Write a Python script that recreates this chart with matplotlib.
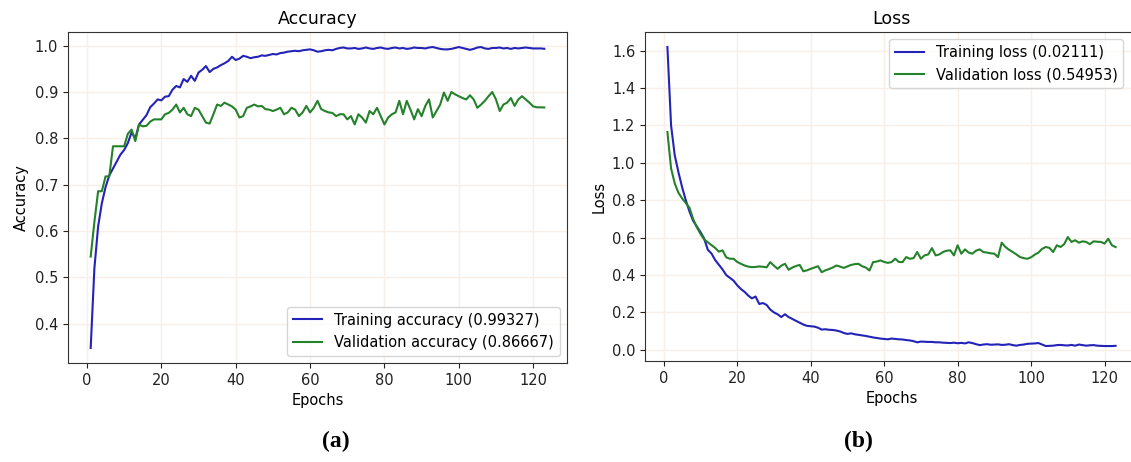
import numpy as np
import matplotlib
matplotlib.use("Agg")
import matplotlib.pyplot as plt

# values (epochs 1..123)
train_acc = [0.348, 0.52, 0.61, 0.66, 0.695, 0.72, 0.735, 0.75, 0.765, 0.775,
             0.79, 0.813, 0.80, 0.83, 0.84, 0.85, 0.867, 0.875, 0.884, 0.882,
             0.89, 0.891, 0.905, 0.913, 0.91, 0.928, 0.922, 0.935, 0.924, 0.942,
             0.948, 0.956, 0.943, 0.95, 0.953, 0.958, 0.962, 0.967, 0.976, 0.969,
             0.972, 0.978, 0.976, 0.973, 0.975, 0.976, 0.979, 0.978, 0.98, 0.982,
             0.981, 0.984, 0.985, 0.987, 0.988, 0.989, 0.988, 0.99, 0.991, 0.992,
             0.99, 0.987, 0.988, 0.99, 0.991, 0.99, 0.993, 0.995, 0.996, 0.994,
             0.994, 0.995, 0.993, 0.994, 0.996, 0.994, 0.993, 0.995, 0.996, 0.994,
             0.993, 0.995, 0.996, 0.994, 0.995, 0.993, 0.994, 0.996, 0.995, 0.995,
             0.994, 0.996, 0.997, 0.995, 0.993, 0.992, 0.992, 0.993, 0.995, 0.997,
             0.995, 0.993, 0.991, 0.993, 0.996, 0.997, 0.994, 0.993, 0.995, 0.995,
             0.996, 0.994, 0.995, 0.993, 0.995, 0.994, 0.995, 0.996, 0.995, 0.994,
             0.994, 0.994, 0.99327]

val_acc = [0.545, 0.62, 0.686, 0.686, 0.718, 0.718, 0.783, 0.783, 0.783, 0.783,
           0.81, 0.819, 0.794, 0.83, 0.826, 0.827, 0.836, 0.841, 0.841, 0.841,
           0.852, 0.855, 0.862, 0.873, 0.856, 0.866, 0.852, 0.848, 0.866, 0.862,
           0.848, 0.834, 0.832, 0.852, 0.873, 0.87, 0.877, 0.873, 0.869, 0.862,
           0.845, 0.848, 0.866, 0.869, 0.873, 0.869, 0.87, 0.863, 0.862, 0.859,
           0.862, 0.866, 0.852, 0.856, 0.866, 0.862, 0.848, 0.856, 0.87, 0.856,
           0.866, 0.881, 0.863, 0.859, 0.856, 0.855, 0.848, 0.852, 0.852, 0.841,
           0.848, 0.83, 0.852, 0.845, 0.834, 0.859, 0.852, 0.866, 0.848, 0.83,
           0.845, 0.852, 0.856, 0.881, 0.852, 0.881, 0.862, 0.841, 0.863, 0.848,
           0.87, 0.884, 0.845, 0.859, 0.873, 0.899, 0.881, 0.9, 0.895, 0.891,
           0.887, 0.884, 0.893, 0.884, 0.866, 0.873, 0.881, 0.891, 0.9, 0.884,
           0.859, 0.873, 0.877, 0.887, 0.87, 0.884, 0.891, 0.884, 0.877, 0.869,
           0.867, 0.867, 0.86667]

train_loss = [1.62, 1.20, 1.04, 0.95, 0.87, 0.80, 0.74, 0.69, 0.66, 0.63,
              0.595, 0.535, 0.515, 0.48, 0.455, 0.43, 0.40, 0.385, 0.37, 0.345,
              0.325, 0.31, 0.29, 0.275, 0.285, 0.245, 0.25, 0.24, 0.215, 0.20,
              0.19, 0.175, 0.19, 0.175, 0.165, 0.155, 0.145, 0.135, 0.128, 0.126,
              0.124, 0.118, 0.108, 0.11, 0.107, 0.106, 0.103, 0.098, 0.09, 0.085,
              0.088, 0.083, 0.08, 0.077, 0.074, 0.07, 0.066, 0.063, 0.06, 0.058,
              0.056, 0.06, 0.058, 0.056, 0.055, 0.052, 0.05, 0.046, 0.04, 0.044,
              0.043, 0.042, 0.042, 0.04, 0.04, 0.038, 0.037, 0.036, 0.038, 0.035,
              0.037, 0.034, 0.04, 0.036, 0.03, 0.025, 0.028, 0.03, 0.027, 0.028,
              0.029, 0.026, 0.027, 0.03, 0.025, 0.022, 0.026, 0.028, 0.032, 0.033,
              0.034, 0.036, 0.028, 0.02, 0.021, 0.022, 0.025, 0.026, 0.024, 0.023,
              0.026, 0.022, 0.028, 0.025, 0.022, 0.024, 0.025, 0.022, 0.021, 0.02,
              0.02, 0.02, 0.02111]

val_loss = [1.165, 0.97, 0.89, 0.84, 0.81, 0.785, 0.76, 0.70, 0.655, 0.62,
            0.59, 0.575, 0.56, 0.545, 0.525, 0.532, 0.495, 0.487, 0.487, 0.47,
            0.46, 0.451, 0.445, 0.442, 0.443, 0.446, 0.444, 0.441, 0.469, 0.45,
            0.433, 0.45, 0.46, 0.428, 0.44, 0.448, 0.454, 0.42, 0.425, 0.433,
            0.44, 0.447, 0.415, 0.425, 0.432, 0.44, 0.451, 0.445, 0.438, 0.446,
            0.454, 0.458, 0.46, 0.447, 0.44, 0.424, 0.469, 0.472, 0.478, 0.47,
            0.465, 0.469, 0.487, 0.47, 0.469, 0.496, 0.487, 0.49, 0.523, 0.487,
            0.505, 0.51, 0.544, 0.505, 0.51, 0.523, 0.53, 0.532, 0.505, 0.559,
            0.514, 0.537, 0.52, 0.514, 0.53, 0.537, 0.523, 0.52, 0.516, 0.514,
            0.496, 0.573, 0.55, 0.535, 0.523, 0.51, 0.496, 0.49, 0.487, 0.495,
            0.509, 0.52, 0.54, 0.55, 0.545, 0.523, 0.559, 0.55, 0.565, 0.603,
            0.577, 0.586, 0.573, 0.58, 0.577, 0.565, 0.58, 0.578, 0.577, 0.568,
            0.594, 0.559, 0.54953]

blue = '#2323b8'
green = '#24822a'
grid_col = '#f8efe9'

plt.rcParams['font.family'] = 'DejaVu Sans'
plt.rcParams['font.size'] = 10.5

fig = plt.figure(figsize=(11.31, 4.62), dpi=100)

ax1 = fig.add_axes([68 / 1131, 99 / 462, 499 / 1131, 331 / 462])
ax2 = fig.add_axes([645 / 1131, 101 / 462, 493 / 1131, 329 / 462])


def style(ax):
    ax.grid(True, color=grid_col, linewidth=1.0)
    ax.set_axisbelow(True)
    for s in ax.spines.values():
        s.set_color('#333333')
    ax.tick_params(colors='#222222', labelsize=10.5)
    ax.set_xlabel('Epochs', fontsize=10.5)


ep = np.arange(1, len(train_acc) + 1)
ax1.plot(ep, train_acc, color=blue, lw=1.5,
         label='Training accuracy (%.5f)' % train_acc[-1])
ax1.plot(np.arange(1, len(val_acc) + 1), val_acc, color=green, lw=1.5,
         label='Validation accuracy (%.5f)' % val_acc[-1])
ax1.set_title('Accuracy', fontsize=12.5)
ax1.set_ylabel('Accuracy', fontsize=10.5)
ax1.set_xticks([0, 20, 40, 60, 80, 100, 120])
ax1.set_yticks([0.4, 0.5, 0.6, 0.7, 0.8, 0.9, 1.0])
style(ax1)
ax1.legend(loc='lower right', fontsize=10.5)

ax2.plot(np.arange(1, len(train_loss) + 1), train_loss, color=blue, lw=1.5,
         label='Training loss (%.5f)' % train_loss[-1])
ax2.plot(np.arange(1, len(val_loss) + 1), val_loss, color=green, lw=1.5,
         label='Validation loss (%.5f)' % val_loss[-1])
ax2.set_title('Loss', fontsize=12.5)
ax2.set_ylabel('Loss', fontsize=10.5)
ax2.set_xticks([0, 20, 40, 60, 80, 100, 120])
ax2.set_yticks([0.0, 0.2, 0.4, 0.6, 0.8, 1.0, 1.2, 1.4, 1.6])
style(ax2)
ax2.legend(loc='upper right', fontsize=10.5, bbox_to_anchor=(0.985, 1.0))

fig.text(336 / 1131, 1 - 441 / 462, '(a)', ha='center', va='center',
         family='Liberation Serif', weight='bold', fontsize=17)
fig.text(858 / 1131, 1 - 441 / 462, '(b)', ha='center', va='center',
         family='Liberation Serif', weight='bold', fontsize=17)

fig.savefig('out.png', dpi=100)
